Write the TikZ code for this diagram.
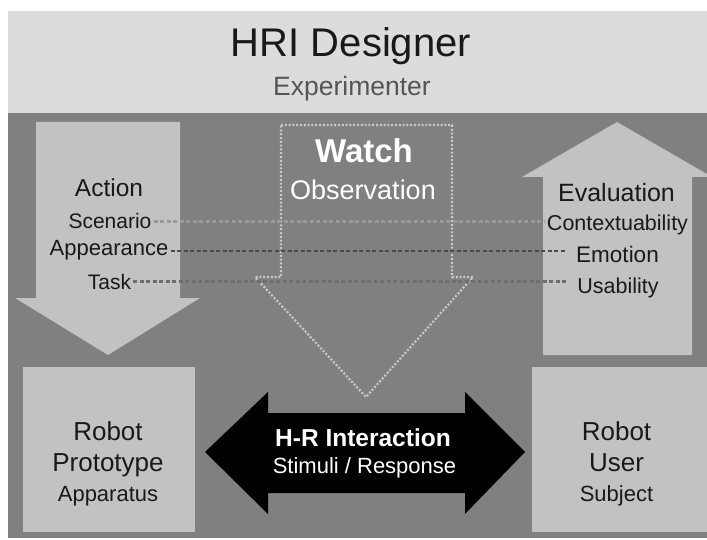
\documentclass[tikz,border=0pt]{standalone}
\usepackage{fontspec}
\setmainfont{Liberation Sans}
\usetikzlibrary{arrows}
\definecolor{bandgray}{HTML}{DCDCDC}
\definecolor{floorgray}{HTML}{808080}
\definecolor{shapegray}{HTML}{C2C2C2}
\definecolor{inkgray}{HTML}{555555}
\definecolor{dotlight}{HTML}{C8C8C8}
\definecolor{dotmid}{HTML}{999999}
\definecolor{dotdark}{HTML}{4A4A4A}
\newcommand{\pxfont}[1]{\fontsize{#1pt}{#1pt}\selectfont}

\begin{document}
\begin{tikzpicture}[x=1pt,y=-1pt]
    \tikzstyle{block} = [fill=shapegray, draw=none, shape=rectangle, inner sep=0pt]
    \tikzstyle{word} = [anchor=base, inner sep=2pt, text=black!90]
    \tikzstyle{whiteword} = [anchor=base, inner sep=2pt, text=white]
    \tikzstyle{link} = [line width=2.2pt, dash pattern=on 4pt off 2.5pt]
    \tikzstyle{watchline} = [draw=dotlight, line width=2.2pt, dash pattern=on 2pt off 1.8pt]
    \clip (0,0) rectangle (707,540);
    %Background panels
    \fill[bandgray] (8,11) rectangle (707,113);
    \fill[floorgray] (8,113) rectangle (707,538);

    %Block arrows and boxes
    \fill[shapegray] (36,122) -- (180,122) -- (180,298) -- (200,298) -- (108,355)
        -- (15,298) -- (36,298) -- cycle;
    \fill[shapegray] (543,355) -- (543,177) -- (522,177) -- (617,122) -- (712,177)
        -- (692,177) -- (692,355) -- cycle;
    \draw[watchline] (281,125) -- (452,125) -- (452,277) -- (473,277) -- (366,397)
        -- (255,277) -- (281,277) -- cycle;
    \fill[black] (205,452) -- (268,392) -- (268,413) -- (465,413) -- (465,392) -- (525,452)
        -- (465,514) -- (465,493) -- (268,493) -- (268,514) -- cycle;
    \node[block, minimum width=172pt, minimum height=165pt] (box_p) at (109,449.5) {};
    \node[block, minimum width=180pt, minimum height=165pt] (box_u) at (622,449.5) {};

    %Creating Text Nodes
    \node[word, font=\pxfont{40}] (designer) at (351,57) {HRI Designer};
    \node[word, font=\pxfont{26.5}, text=inkgray] (experimenter) at (352,96) {Experimenter};
    \node[whiteword, font=\pxfont{33}\bfseries] (watch) at (364,163) {Watch};
    \node[whiteword, font=\pxfont{27}] (observation) at (363,200) {Observation};

    \node[word, font=\pxfont{24.5}] (action) at (109,197) {Action};
    \node[word, font=\pxfont{21}] (scenario) at (110,229) {Scenario};
    \node[word, font=\pxfont{22}] (appearance) at (109,256) {Appearance};
    \node[word, font=\pxfont{21}] (task) at (109.5,289) {Task};

    \node[word, font=\pxfont{25}] (evaluation) at (616.5,201.5) {Evaluation};
    \node[word, font=\pxfont{21.5}] (context) at (617.5,231) {Contextuability};
    \node[word, font=\pxfont{22.5}] (emotion) at (617.5,262) {Emotion};
    \node[word, font=\pxfont{21.5}] (usability) at (618,293) {Usability};

    \node[word, font=\pxfont{26}] (robot_p) at (108,440) {Robot};
    \node[word, font=\pxfont{26}] (prototype) at (108,471.5) {Prototype};
    \node[word, font=\pxfont{22}] (apparatus) at (108,501.5) {Apparatus};
    \node[word, font=\pxfont{26}] (robot_u) at (616.5,440) {Robot};
    \node[word, font=\pxfont{26}] (user) at (616.5,471.5) {User};
    \node[word, font=\pxfont{22}] (subject) at (616.5,501.5) {Subject};

    \node[whiteword, font=\pxfont{24.5}\bfseries] (interaction) at (363,446) {H-R Interaction};
    \node[whiteword, font=\pxfont{22}] (stimuli) at (364.5,473) {Stimuli / Response};

    %Conecting Items
    \begin{scope}[link]
        \draw[dotmid] (scenario.east) -- (scenario.east -| context.west);
        \draw[dotdark] (appearance.east) -- ([xshift=-8pt]appearance.east -| emotion.west);
        \draw[dotdark!80!white] (task.east) -- ([xshift=-8pt]task.east -| usability.west);
    \end{scope}
\end{tikzpicture}
\end{document}
